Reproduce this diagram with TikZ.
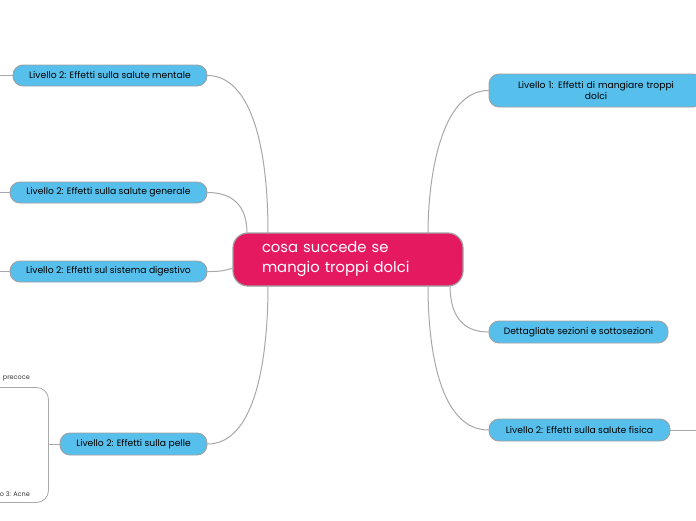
\documentclass[tikz,border=0pt]{standalone}
\usepackage{fontspec}
\setmainfont{Poppins}[Numbers=Proportional]
\definecolor{topicblue}{HTML}{57BFEC}
\definecolor{rootred}{HTML}{E4195F}
\definecolor{edgegray}{HTML}{A8A8A8}
\definecolor{bordergray}{HTML}{A0A0A0}
\begin{document}
\begin{tikzpicture}[x=1pt,y=-1pt,
  topic/.style={draw=bordergray,line width=0.9pt,fill=topicblue,rounded corners=10pt,
    inner sep=0pt,font=\fontsize{9.2}{11}\selectfont,text=black,align=center},
  root/.style={draw=bordergray,line width=1.2pt,fill=rootred,rounded corners=15pt,
    inner xsep=29pt,inner ysep=0pt,text width=172pt,minimum height=53pt,align=left,
    font=\fontsize{14.8}{20}\selectfont,text=white},
  edge/.style={draw=edgegray,line width=1pt},
  small/.style={font=\fontsize{6.5}{7}\selectfont,text=black!80,inner sep=0pt}]
\useasboundingbox (0,0) rectangle (696,520);
\fill[white] (0,0) rectangle (696,520);

\node[root] (c) at (348,259.5) {cosa succede se\\mangio troppi dolci};

\node[topic,minimum width=194pt,minimum height=21pt] (ment) at (110,75.5) {Livello 2: Effetti sulla salute mentale};
\node[topic,minimum width=197pt,minimum height=21pt] (gen) at (108.5,192.5) {Livello 2: Effetti sulla salute generale};
\node[topic,minimum width=197pt,minimum height=21pt] (dig) at (108.5,271.5) {Livello 2: Effetti sul sistema digestivo};
\node[topic,minimum width=147pt,minimum height=22pt] (pel) at (133.5,444) {Livello 2: Effetti sulla pelle};
\node[topic,minimum width=214pt,minimum height=33pt,text width=190pt] (l1) at (596,90.5) {Livello 1: Effetti di mangiare troppi\\dolci};
\node[topic,minimum width=179pt,minimum height=22pt] (det) at (578.5,332) {Dettagliate sezioni e sottosezioni};
\node[topic,minimum width=181pt,minimum height=22pt] (fis) at (579.5,430) {Livello 2: Effetti sulla salute fisica};

% attachment points on root
\coordinate (ctA) at (268,233.5);
\coordinate (ctB) at (247,233.5);
\coordinate (clA) at (234,268);
\coordinate (cbA) at (268,285.5);
\coordinate (ctR) at (428,233.5);
\coordinate (cbR) at (450,285);
\coordinate (cbR2) at (428,285.5);

\draw[edge] (ment.east) .. controls (245,75.5) and (268,130) .. (ctA);
\draw[edge] (gen.east) .. controls (232,192.5) and (247,205) .. (ctB);
\draw[edge] (dig.east) .. controls (220,271.5) .. (clA);
\draw[edge] (pel.east) .. controls (258,444) and (268,350) .. (cbA);
\draw[edge] (l1.west) .. controls (440,90.5) and (428,180) .. (ctR);
\draw[edge] (det.west) .. controls (462,332) and (450,315) .. (cbR);
\draw[edge] (fis.west) .. controls (440,430) and (428,350) .. (cbR2);

% stubs to the picture edges
\coordinate (eM) at (0,75.5);
\coordinate (eG) at (0,192.5);
\coordinate (eD) at (0,271.5);
\coordinate (eF) at (696,430);
\draw[edge] (eM) -- (ment.west);
\draw[edge] (eG) -- (gen.west);
\draw[edge] (eD) -- (dig.west);
\draw[edge] (fis.east) -- (eF);

% bracket for level 3 children of pelle
\coordinate (bj) at (48.5,444);
\coordinate (bt) at (0,387.5);
\coordinate (bb) at (0,502.5);
\draw[edge,line width=0.8pt] (pel.west) -- (bj);
\draw[edge,line width=0.8pt,rounded corners=12pt] (bt) -- (48.5,387.5) -- (48.5,502.5) -- (bb);
\node[small,anchor=east] (p1) at (30,379) {precoce};
\node[small,anchor=east] (p2) at (30,494) {o 3: Acne};
\end{tikzpicture}
\end{document}
